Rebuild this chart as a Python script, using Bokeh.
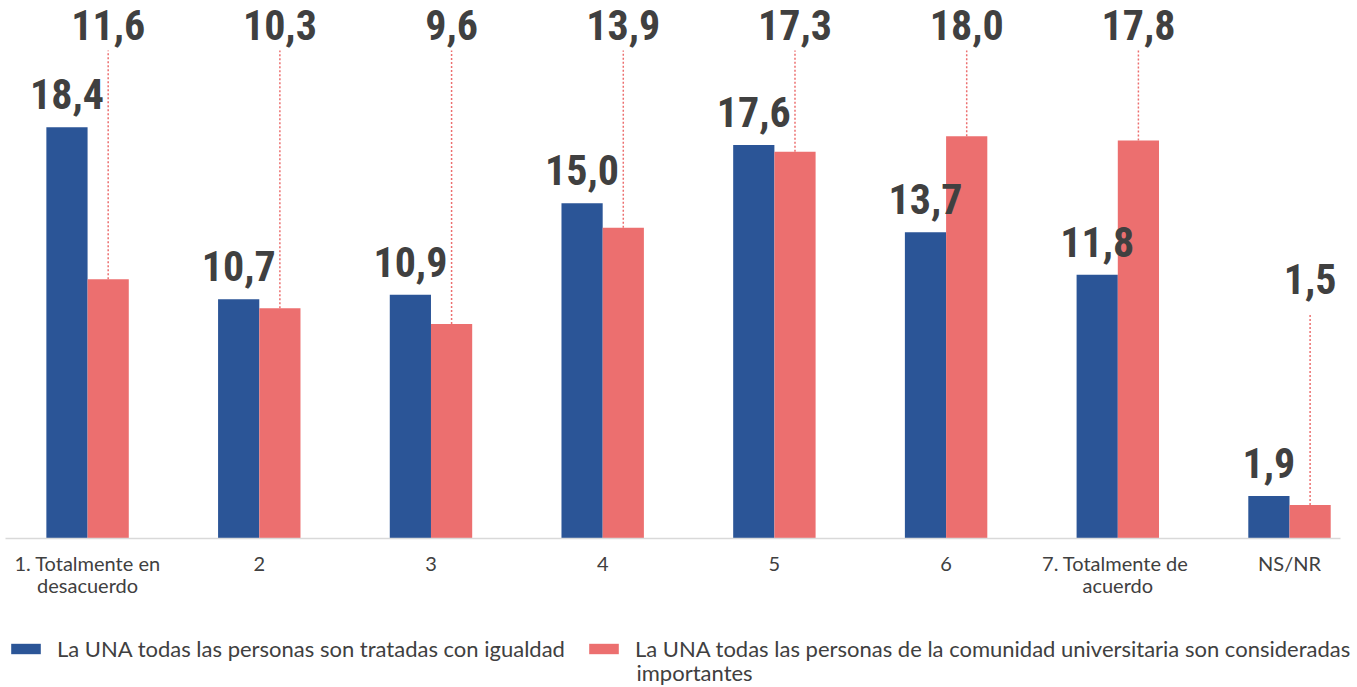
from bokeh.plotting import figure
from bokeh.layouts import column
from bokeh.models import (ColumnDataSource, Range1d, FixedTicker, Legend, LegendItem, LinearAxis, Label)
from bokeh.core.properties import value
from bokeh.embed import file_html
from bokeh.resources import INLINE

categories = ["1. Totalmente en\ndesacuerdo", "2", "3", "4", "5", "6", "7. Totalmente  de\nacuerdo", "NS/NR"]
igualdad = [18.4, 10.7, 10.9, 15.0, 17.6, 13.7, 11.8, 1.9]
importantes = [11.6, 10.3, 9.6, 13.9, 17.3, 18.0, 17.8, 1.5]
series_names = ["La UNA todas las personas son tratadas con igualdad",
                "La UNA todas las personas de la comunidad universitaria son consideradas",
                "importantes"]

BLUE = "#2b5597"
RED = "#ec6f6f"
DARK = "#404040"
BAR_W = 0.24
VAL_FONT = "Roboto Condensed, Liberation Sans Narrow, DejaVu Sans Condensed, sans-serif"

n = len(categories)
xs = list(range(n))

def fmt(v):
    return f"{v:.1f}".replace(".", ",")

# callout levels for red labels (top row), last one lower
lab_lvl = [22.95 if i < n - 1 else 11.6 for i in xs]
lead_top = [21.83 if i < n - 1 else 10.07 for i in xs]

src_b = ColumnDataSource(dict(x=[i - BAR_W / 2 for i in xs], top=igualdad,
                              lab=[fmt(v) for v in igualdad]))
src_r = ColumnDataSource(dict(x=[i + BAR_W / 2 for i in xs], top=importantes,
                              lab=[fmt(v) for v in importantes], lvl=lab_lvl, lt=lead_top))

p = figure(frame_width=1335, frame_height=530, output_backend="svg", toolbar_location=None,
           x_range=Range1d(-0.478, 7.297), y_range=Range1d(0, 23.71),
           min_border_left=5, min_border_right=6, min_border_top=8, min_border_bottom=0,
           x_axis_location=None, y_axis_location=None)
p.background_fill_color = "white"
p.border_fill_color = "white"
p.outline_line_color = None
p.xgrid.visible = False
p.ygrid.visible = False

rb = p.vbar(x="x", top="top", width=BAR_W, source=src_b, fill_color=BLUE, line_color=None)
rr = p.vbar(x="x", top="top", width=BAR_W, source=src_r, fill_color=RED, line_color=None)

# leader lines
p.segment(x0="x", y0="top", x1="x", y1="lt", source=src_r, line_color=RED,
          line_dash="2 2", line_width=1.5)

p.text(x="x", y="top", text="lab", source=src_b, text_align="center", text_baseline="bottom",
       y_offset=-18, text_font=value(VAL_FONT), text_font_style="bold",
       text_font_size="42px", text_color=DARK)
p.text(x="x", y="lvl", text="lab", source=src_r, text_align="center", text_baseline="middle",
       text_font=value(VAL_FONT), text_font_style="bold",
       text_font_size="42px", text_color=DARK)

xaxis = LinearAxis(ticker=FixedTicker(ticks=xs),
                   major_label_overrides={i: c for i, c in enumerate(categories)})
xaxis.axis_line_color = "#d9d9d9"
xaxis.axis_line_width = 1.5
xaxis.major_tick_line_color = None
xaxis.minor_tick_line_color = None
xaxis.major_label_standoff = 6
xaxis.major_label_text_font = "Lato"
xaxis.major_label_text_font_size = "20px"
xaxis.major_label_text_line_height = 0.95
xaxis.major_label_text_color = DARK
p.add_layout(xaxis, "below")

# legend strip
lg = figure(width=1357, height=86, output_backend="svg", toolbar_location=None,
            x_range=Range1d(0, 1), y_range=Range1d(0, 1),
            min_border_left=0, min_border_right=0, min_border_top=0, min_border_bottom=0,
            x_axis_location=None, y_axis_location=None)
lg.outline_line_color = None
lg.background_fill_color = "white"
lg.border_fill_color = "white"
lg.xgrid.visible = False
lg.ygrid.visible = False
lb = lg.vbar(x=[0.5], bottom=[0], top=[0], width=0.001, fill_color=BLUE, line_color=None)
lr = lg.vbar(x=[0.5], bottom=[0], top=[0], width=0.001, fill_color=RED, line_color=None)

legend = Legend(items=[LegendItem(label=series_names[0], renderers=[lb]),
                       LegendItem(label=series_names[1], renderers=[lr])],
                orientation="horizontal", location=(2, 24))
legend.border_line_color = None
legend.background_fill_alpha = 0
legend.label_text_font = "Lato"
legend.label_text_font_size = "22px"
legend.label_text_color = DARK
legend.glyph_width = 37
legend.glyph_height = 13
legend.label_standoff = 13
legend.spacing = 20
legend.padding = 0
legend.margin = 0
lg.add_layout(legend, "center")

lg.add_layout(Label(x=631, y=14, x_units="screen", y_units="screen", text=series_names[2],
                    text_font="Lato", text_font_size="22px", text_color=DARK,
                    text_baseline="middle"))

open("out.html", "w").write(file_html(column(p, lg, spacing=0), INLINE))
